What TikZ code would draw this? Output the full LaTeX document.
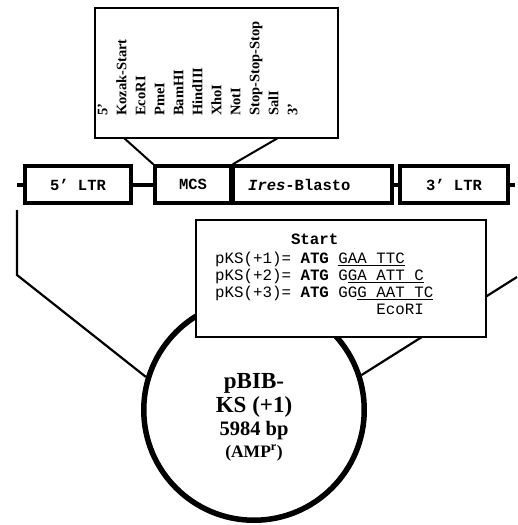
\documentclass[tikz,border=0pt]{standalone}
\usepackage{fontspec}
\setmainfont{Liberation Serif}
\newfontfamily\courfont{Liberation Mono}
\tikzset{
  barbox/.style={draw, line width=3.5pt, minimum height=37pt, inner sep=0pt, fill=white,
    font=\courfont\bfseries\fontsize{15.5}{16}\selectfont},
  bartext/.style={inner sep=0pt, font=\courfont\bfseries\fontsize{15.5}{16}\selectfont},
  barline/.style={line width=4pt},
  thinbox/.style={draw, line width=1.8pt, inner sep=0pt, fill=white},
  startboxst/.style={draw, line width=2.5pt, inner sep=0pt, fill=white},
  site/.style={rotate=90, anchor=mid west, inner sep=0pt, font=\bfseries\fontsize{14.5}{15}\selectfont},
  seq/.style={anchor=base west, inner sep=0pt, font=\courfont\fontsize{15.8}{16}\selectfont},
  uline/.style={line width=1.2pt},
  conn/.style={line width=2.2pt},
  trap/.style={line width=2pt},
  plasmidc/.style={circle, draw, line width=5.5pt, minimum size=220.5pt, inner sep=0pt},
  ptext/.style={anchor=base, inner sep=0pt, font=\bfseries}
}
\begin{document}
\begin{tikzpicture}[x=1pt,y=-1pt]
\useasboundingbox (0,0) rectangle (517,525);
% plasmid circle and connectors
\node[plasmidc] (plasmid) at (254,410) {};
\coordinate (rstart) at (517,277);
\draw[conn] (rstart) -- (plasmid.18.4);
\coordinate (lstart) at (17,210);
\coordinate (lbend) at (17,275);
\draw[conn] (lstart) -- (lbend) -- (plasmid.163.6);
% plasmid label
\node[ptext, font=\bfseries\fontsize{23}{24}\selectfont] (pbib) at (254,388) {pBIB-};
\node[ptext, font=\bfseries\fontsize{23}{24}\selectfont] (ks) at (254,412) {KS (+1)};
\node[ptext, font=\bfseries\fontsize{20.5}{21}\selectfont] (bp) at (254,435) {5984 bp};
\node[ptext, font=\bfseries\fontsize{17.5}{18}\selectfont] (amp) at (254,457) {(AMP\textsuperscript{r})};
% Start box
\node[startboxst, minimum width=290pt, minimum height=117pt] (startb) at (341,278.5) {};
\node[seq, font=\courfont\bfseries\fontsize{15.8}{16}\selectfont] (start) at (290.8,244) {Start};
\node[seq] (row1) at (215,263) {pKS(+1)= \textbf{ATG} GAA TTC};
\node[seq] (row2) at (215,280) {pKS(+2)= \textbf{ATG} GGA ATT C};
\node[seq] (row3) at (215,297) {pKS(+3)= \textbf{ATG} GGG AAT TC};
\node[seq] (ecori) at (376.2,314) {EcoRI};
\draw[uline] ([xshift=123.24pt,yshift=-2.5pt]row1.base west) -- ([xshift=189.6pt,yshift=-2.5pt]row1.base west);
\draw[uline] ([xshift=132.72pt,yshift=-2.5pt]row2.base west) -- ([xshift=208.56pt,yshift=-2.5pt]row2.base west);
\draw[uline] ([xshift=142.2pt,yshift=-2.5pt]row3.base west) -- ([xshift=218.04pt,yshift=-2.5pt]row3.base west);
% bar
\coordinate (barL) at (17,184.5);
\coordinate (barR) at (515,184.5);
\node[barbox, minimum width=106pt] (ltr5) at (78,184.5) {5’ LTR};
\node[barbox, minimum width=76pt] (mcs) at (193,184.5) {MCS};
\node[barbox, minimum width=159pt] (ires) at (312.5,184.5) {};
\node[bartext, anchor=base west] (irestext) at (248,190) {\itshape Ires\upshape-Blasto};
\node[barbox, minimum width=108pt] (ltr3) at (454,184.5) {3’ LTR};
\draw[barline] (barL) -- (ltr5.west);
\draw[barline] (ltr5.east) -- (mcs.west);
\draw[barline] (ires.east) -- (ltr3.west);
\draw[barline] (ltr3.east) -- (barR);
% MCS detail box
\node[thinbox, minimum width=243pt, minimum height=130pt] (mcsbox) at (216.5,73) {};
\coordinate (tl) at (124,138);
\coordinate (tr) at (278,138);
\draw[trap] (tl) -- (mcs.north west);
\draw[trap] (tr) -- (mcs.north east);
\node[site] (s1) at (105,116) {5’};
\node[site] (s2) at (124,116) {Kozak-Start};
\node[site] (s3) at (143,116) {EcoRI};
\node[site] (s4) at (162,116) {PmeI};
\node[site] (s5) at (181,116) {BamHI};
\node[site] (s6) at (200,116) {HindIII};
\node[site] (s7) at (219,116) {XhoI};
\node[site] (s8) at (238,116) {NotI};
\node[site] (s9) at (257,116) {Stop-Stop-Stop};
\node[site] (s10) at (276,116) {SalI};
\node[site] (s11) at (295,116) {3’};
\end{tikzpicture}
\end{document}
